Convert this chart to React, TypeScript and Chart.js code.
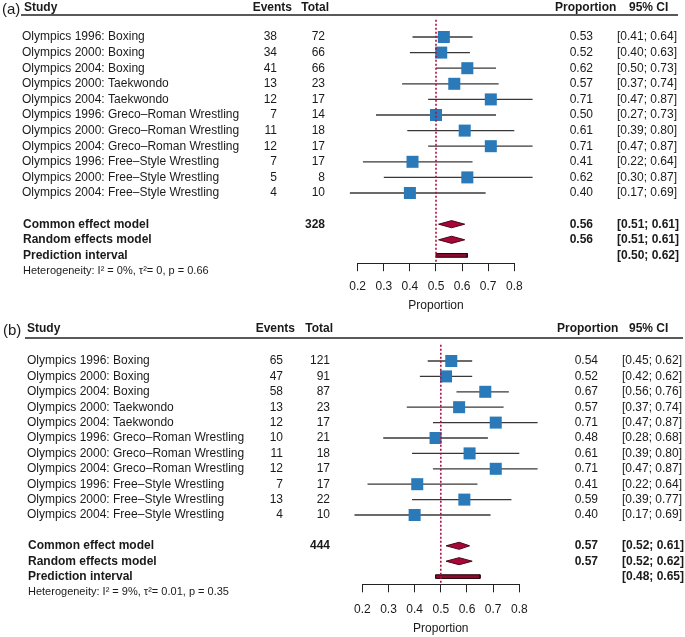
import React, { useEffect, useRef } from "react";
import { Chart, registerables } from "chart.js";

Chart.register(...registerables);

const FONT = "'Liberation Sans', Arial, Helvetica, sans-serif";

// ---------- data ----------
const studies = [
  "Olympics 1996: Boxing",
  "Olympics 2000: Boxing",
  "Olympics 2004: Boxing",
  "Olympics 2000: Taekwondo",
  "Olympics 2004: Taekwondo",
  "Olympics 1996: Greco\u2013Roman Wrestling",
  "Olympics 2000: Greco\u2013Roman Wrestling",
  "Olympics 2004: Greco\u2013Roman Wrestling",
  "Olympics 1996: Free\u2013Style Wrestling",
  "Olympics 2000: Free\u2013Style Wrestling",
  "Olympics 2004: Free\u2013Style Wrestling",
];

const xTicks = [0.2, 0.3, 0.4, 0.5, 0.6, 0.7, 0.8];
const refValue = 0.5;

// panel (a)
const eventsA = [38, 34, 41, 13, 12, 7, 11, 12, 7, 5, 4];
const totalA = [72, 66, 66, 23, 17, 14, 18, 17, 17, 8, 10];
const propA = [0.53, 0.52, 0.62, 0.57, 0.71, 0.5, 0.61, 0.71, 0.41, 0.62, 0.4];
const lowerA = [0.41, 0.4, 0.5, 0.37, 0.47, 0.27, 0.39, 0.47, 0.22, 0.3, 0.17];
const upperA = [0.64, 0.63, 0.73, 0.74, 0.87, 0.73, 0.8, 0.87, 0.64, 0.87, 0.69];
const commonA = [0.56, 0.51, 0.61];
const randomA = [0.56, 0.51, 0.61];
const predA = [0.5, 0.62];
const sumTotalA = 328;
const hetA = "Heterogeneity: I\u00B2 = 0%, \u03C4\u00B2= 0, p = 0.66";

// panel (b)
const eventsB = [65, 47, 58, 13, 12, 10, 11, 12, 7, 13, 4];
const totalB = [121, 91, 87, 23, 17, 21, 18, 17, 17, 22, 10];
const propB = [0.54, 0.52, 0.67, 0.57, 0.71, 0.48, 0.61, 0.71, 0.41, 0.59, 0.4];
const lowerB = [0.45, 0.42, 0.56, 0.37, 0.47, 0.28, 0.39, 0.47, 0.22, 0.39, 0.17];
const upperB = [0.62, 0.62, 0.76, 0.74, 0.87, 0.68, 0.8, 0.87, 0.64, 0.77, 0.69];
const commonB = [0.57, 0.52, 0.61];
const randomB = [0.57, 0.52, 0.62];
const predB = [0.48, 0.65];
const sumTotalB = 444;
const hetB = "Heterogeneity: I\u00B2 = 9%, \u03C4\u00B2= 0.01, p = 0.35";

// ---------- layout (pixels, not data) ----------
const panelA = {
  label: "(a)",
  events: eventsA, total: totalA, prop: propA, lower: lowerA, upper: upperA,
  common: commonA, random: randomA, pred: predA, sumTotal: sumTotalA, het: hetA,
  height: 318, padTop: 13.6, padLeft: 357.7, padRight: 170.7, axisH: 54.8, tickPad: 8.6, titlePad: 4.8,
  headRow: -1.86, lineRow: -1.41, refTop: -1.1,
  labelX: 2, studyX: 24, eventsHeadR: 292, totalHeadR: 329, propHeadX: 555, ciHeadX: 629,
  lineX0: 21, lineX1: 678, textX: 22, eventsR: 277, totalR: 325, propR: 593, ciX: 617,
};
const panelB = {
  label: "(b)",
  events: eventsB, total: totalB, prop: propB, lower: lowerB, upper: upperB,
  common: commonB, random: randomB, pred: predB, sumTotal: sumTotalB, het: hetB,
  height: 319, padTop: 19.9, padLeft: 362.3, padRight: 165.7, axisH: 52.7, tickPad: 10.5, titlePad: 1.5,
  headRow: -2.08, lineRow: -1.49, refTop: -1.05,
  labelX: 3, studyX: 27, eventsHeadR: 295, totalHeadR: 333, propHeadX: 557, ciHeadX: 629,
  lineX0: 25, lineX1: 683, textX: 27, eventsR: 283, totalR: 330, propR: 598, ciX: 622,
};

const TEXT = "#1a1a1a";
const BLUE = "#2a7ab9";
const CRIMSON = "#b0103f";
const DIAMOND = "#a8063a";
const DARK = "#4a0716";

function ci(lo: number, hi: number) {
  return `[${lo.toFixed(2)}; ${hi.toFixed(2)}]`;
}

function ForestPanel({ p }: { p: any }) {
  const ref = useRef<HTMLCanvasElement | null>(null);

  useEffect(() => {
    const n = p.prop.length;
    const rowCommon = n + 1;
    const rowRandom = n + 2;
    const rowPred = n + 3;
    const rowHet = n + 4;
    const dh = 0.23;
    const ph = 0.12;

    const datasets: any[] = [];
    p.lower.forEach((lo: number, i: number) => {
      datasets.push({
        type: "line",
        data: [{ x: lo, y: i }, { x: p.upper[i], y: i }],
        borderColor: "#383838",
        borderWidth: 1.3,
        pointRadius: 0,
        fill: false,
        clip: false,
        order: 5,
      });
    });
    datasets.push({
      type: "scatter",
      data: p.prop.map((v: number, i: number) => ({ x: v, y: i })),
      pointStyle: "rect",
      pointRadius: 8.5,
      pointHoverRadius: 8.5,
      backgroundColor: BLUE,
      borderColor: BLUE,
      borderWidth: 0,
      clip: false,
      order: 4,
    });
    const diamond = (vals: number[], r: number) => ({
      type: "line",
      data: [
        { x: vals[1], y: r },
        { x: vals[0], y: r - dh },
        { x: vals[2], y: r },
        { x: vals[0], y: r + dh },
        { x: vals[1], y: r },
      ],
      borderColor: DARK,
      borderWidth: 1,
      backgroundColor: DIAMOND,
      fill: "shape",
      tension: 0,
      pointRadius: 0,
      clip: false,
      order: 3,
    });
    datasets.push(diamond(p.common, rowCommon));
    datasets.push(diamond(p.random, rowRandom));
    datasets.push({
      type: "line",
      data: [
        { x: p.pred[0], y: rowPred - ph },
        { x: p.pred[1], y: rowPred - ph },
        { x: p.pred[1], y: rowPred + ph },
        { x: p.pred[0], y: rowPred + ph },
        { x: p.pred[0], y: rowPred - ph },
      ],
      borderColor: "#2a0208",
      borderWidth: 1,
      backgroundColor: "#8c0a2e",
      fill: "shape",
      tension: 0,
      pointRadius: 0,
      clip: false,
      order: 2,
    });
    datasets.push({
      type: "line",
      data: [{ x: refValue, y: p.refTop }, { x: refValue, y: 14.5 }],
      borderColor: CRIMSON,
      borderWidth: 1.6,
      borderDash: [2, 2],
      pointRadius: 0,
      fill: false,
      clip: false,
      order: 1,
    });

    const textPlugin = {
      id: "forestText",
      afterDraw(chart: any) {
        const ctx = chart.ctx;
        const ys = chart.scales.y;
        const Y = (r: number) => ys.getPixelForValue(r);
        ctx.save();
        ctx.fillStyle = TEXT;
        ctx.textBaseline = "middle";

        ctx.font = `15px ${FONT}`;
        ctx.textAlign = "left";
        ctx.fillText(p.label, p.labelX, Y(p.headRow) + 1.5);

        ctx.font = `bold 12px ${FONT}`;
        ctx.fillText("Study", p.studyX, Y(p.headRow));
        ctx.fillText("Proportion", p.propHeadX, Y(p.headRow));
        ctx.fillText("95% CI", p.ciHeadX, Y(p.headRow));
        ctx.textAlign = "right";
        ctx.fillText("Events", p.eventsHeadR, Y(p.headRow));
        ctx.fillText("Total", p.totalHeadR, Y(p.headRow));

        ctx.strokeStyle = "#222";
        ctx.lineWidth = 1.5;
        ctx.beginPath();
        ctx.moveTo(p.lineX0, Y(p.lineRow));
        ctx.lineTo(p.lineX1, Y(p.lineRow));
        ctx.stroke();

        ctx.font = `12px ${FONT}`;
        studies.forEach((s, i) => {
          const y = Y(i);
          ctx.textAlign = "left";
          ctx.fillText(s, p.textX, y);
          ctx.fillText(ci(p.lower[i], p.upper[i]), p.ciX, y);
          ctx.textAlign = "right";
          ctx.fillText(String(p.events[i]), p.eventsR, y);
          ctx.fillText(String(p.total[i]), p.totalR, y);
          ctx.fillText(p.prop[i].toFixed(2), p.propR, y);
        });

        ctx.font = `bold 12px ${FONT}`;
        ctx.textAlign = "left";
        ctx.fillText("Common effect model", p.textX + 1, Y(rowCommon));
        ctx.fillText("Random effects model", p.textX + 1, Y(rowRandom));
        ctx.fillText("Prediction interval", p.textX + 1, Y(rowPred));
        ctx.fillText(ci(p.common[1], p.common[2]), p.ciX, Y(rowCommon));
        ctx.fillText(ci(p.random[1], p.random[2]), p.ciX, Y(rowRandom));
        ctx.fillText(ci(p.pred[0], p.pred[1]), p.ciX, Y(rowPred));
        ctx.textAlign = "right";
        ctx.fillText(String(p.sumTotal), p.totalR, Y(rowCommon));
        ctx.fillText(p.common[0].toFixed(2), p.propR, Y(rowCommon));
        ctx.fillText(p.random[0].toFixed(2), p.propR, Y(rowRandom));

        ctx.font = `11px ${FONT}`;
        ctx.textAlign = "left";
        ctx.fillText(p.het, p.textX + 1, Y(rowHet));
        ctx.restore();
      },
    };

    const chart = new Chart(ref.current as HTMLCanvasElement, {
      type: "scatter",
      data: { datasets },
      options: {
        animation: false,
        responsive: false,
        maintainAspectRatio: false,
        devicePixelRatio: 1,
        events: [],
        font: { family: FONT },
        layout: { padding: { left: p.padLeft, right: p.padRight, top: p.padTop, bottom: 0 } },
        plugins: { legend: { display: false }, tooltip: { enabled: false }, title: { display: false } },
        scales: {
          y: { type: "linear", reverse: true, min: -1.5, max: 14.5, display: false },
          x: {
            type: "linear",
            position: "bottom",
            min: xTicks[0],
            max: xTicks[xTicks.length - 1],
            afterBuildTicks: (s: any) => {
              s.ticks = xTicks.map((v) => ({ value: v }));
            },
            afterFit: (s: any) => {
              s.height = p.axisH;
            },
            ticks: {
              autoSkip: false,
              maxRotation: 0,
              padding: p.tickPad,
              color: TEXT,
              font: { family: FONT, size: 12 },
              callback: (v: any) => Number(v).toFixed(1),
            },
            grid: { drawOnChartArea: false, drawTicks: true, tickLength: 8, color: "#222", lineWidth: 1 },
            border: { display: true, color: "#222", width: 1 },
            title: {
              display: true,
              text: "Proportion",
              color: TEXT,
              font: { family: FONT, size: 12 },
              padding: { top: 0, bottom: p.titlePad },
            },
          },
        },
      } as any,
      plugins: [textPlugin],
    });
    return () => chart.destroy();
  }, [p]);

  return <canvas ref={ref} width={685} height={p.height} style={{ display: "block", width: 685, height: p.height }} />;
}

export default function App() {
  return (
    <div style={{ width: 685, height: 637, background: "#fff" }}>
      <style>{`html,body{margin:0;padding:0;background:#fff;overflow:hidden}`}</style>
      <ForestPanel p={panelA} />
      <ForestPanel p={panelB} />
    </div>
  );
}
